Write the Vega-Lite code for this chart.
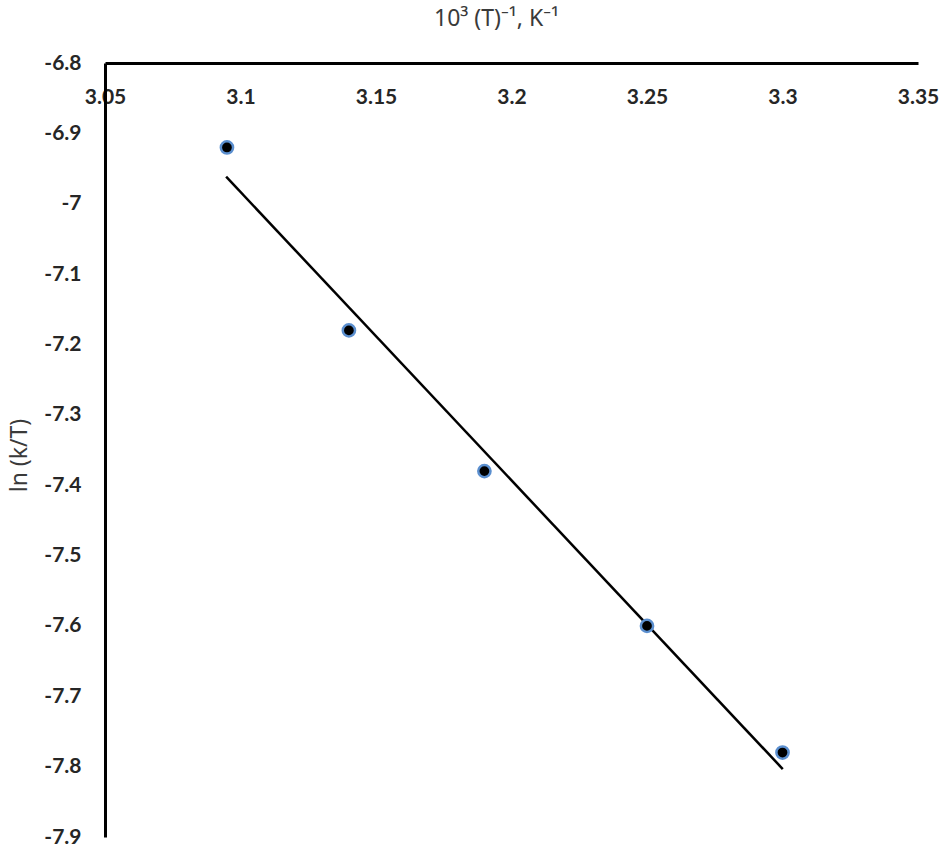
{
  "$schema": "https://vega.github.io/schema/vega-lite/v6.json",
  "autosize": "none",
  "width": 813,
  "height": 774,
  "padding": {"left": 105, "top": 63, "right": 28, "bottom": 14},
  "background": "white",
  "datasets": {
    "points": [
      {"invT": 3.095, "lnkT": -6.92},
      {"invT": 3.14, "lnkT": -7.18},
      {"invT": 3.19, "lnkT": -7.38},
      {"invT": 3.25, "lnkT": -7.60},
      {"invT": 3.30, "lnkT": -7.78}
    ],
    "trend": [
      {"invT": 3.0947, "lnkT": -6.9616},
      {"invT": 3.3001, "lnkT": -7.8034}
    ]
  },
  "encoding": {
    "x": {
      "field": "invT",
      "type": "quantitative",
      "scale": {"domain": [3.05, 3.35], "nice": false, "zero": false},
      "axis": {
        "orient": "top",
        "title": "10³ (T)⁻¹, K⁻¹",
        "values": [3.05, 3.1, 3.15, 3.2, 3.25, 3.3, 3.35],
        "labelExpr": "replace(format(datum.value, '.2~f'), '\u2212', '-')",
        "grid": false,
        "ticks": false,
        "tickSize": 0,
        "domainColor": "black",
        "domainWidth": 3,
        "labelFont": "Lato",
        "labelFontWeight": "bold",
        "labelFontSize": 21,
        "labelColor": "#262626",
        "labelBaseline": "top",
        "labelPadding": -23,
        "labelFlush": false,
        "labelOverlap": false,
        "titleFont": "Noto Sans",
        "titleFontWeight": "normal",
        "titleFontSize": 23,
        "titleColor": "#3a3a3a",
        "titleX": 391,
        "titleY": -45,
        "titleAlign": "center",
        "titleBaseline": "middle",
        "titleAnchor": null
      }
    },
    "y": {
      "field": "lnkT",
      "type": "quantitative",
      "scale": {"domain": [-7.9, -6.8], "nice": false, "zero": false},
      "axis": {
        "title": "ln (k/T)",
        "values": [-6.8, -6.9, -7.0, -7.1, -7.2, -7.3, -7.4, -7.5, -7.6, -7.7, -7.8, -7.9],
        "labelExpr": "replace(format(datum.value, '.1~f'), '\u2212', '-')",
        "grid": false,
        "ticks": false,
        "tickSize": 0,
        "domainColor": "black",
        "domainWidth": 3,
        "labelFont": "Lato",
        "labelFontWeight": "bold",
        "labelFontSize": 21,
        "labelColor": "#262626",
        "labelPadding": 24,
        "labelFlush": false,
        "labelOverlap": false,
        "titleFont": "Noto Sans",
        "titleFontWeight": "normal",
        "titleFontSize": 23,
        "titleColor": "#3a3a3a",
        "titleX": -86,
        "titleY": 392,
        "titleAngle": -90,
        "titleAlign": "center",
        "titleBaseline": "middle"
      }
    }
  },
  "layer": [
    {
      "data": {"name": "trend"},
      "mark": {"type": "line", "color": "black", "strokeWidth": 2.5},
      "encoding": {}
    },
    {
      "data": {"name": "points"},
      "mark": {"type": "point", "shape": "circle", "filled": true, "fill": "black", "stroke": "#5b8fcf", "strokeWidth": 2.5, "size": 150, "opacity": 1},
      "encoding": {}
    }
  ],
  "config": {"view": {"stroke": null}}
}
